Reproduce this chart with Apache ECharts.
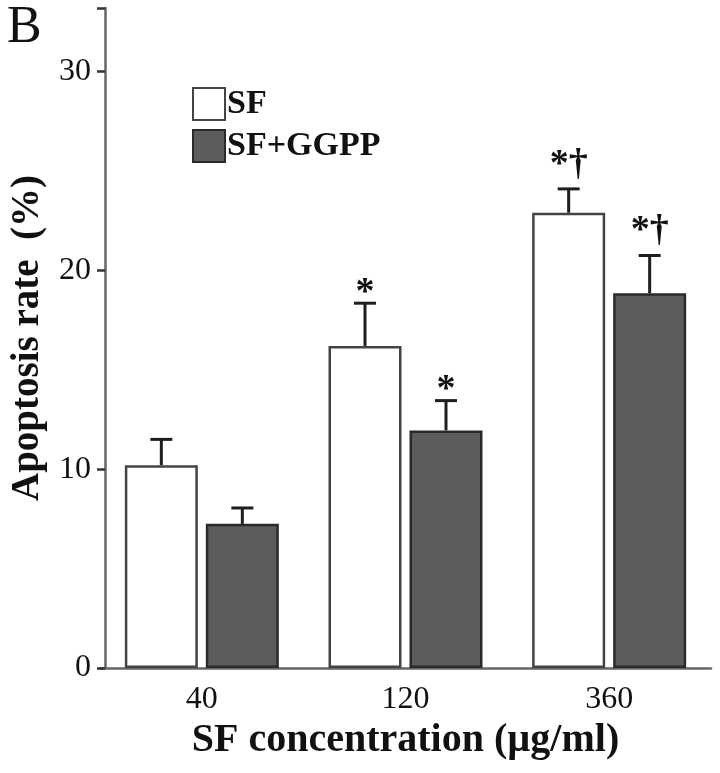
<!DOCTYPE html>
<html>
<head>
<meta charset="utf-8">
<script src="https://cdn.jsdelivr.net/npm/echarts@6/dist/echarts.min.js"></script>
<style>
html,body{margin:0;padding:0;background:#fff;}
#chart{width:720px;height:773px;}
</style>
</head>
<body>
<div id="chart"></div>
<script>
// ---- data ----
var categories = ['40', '120', '360'];
var seriesNames = ['SF', 'SF+GGPP'];
var sfValues = [10.2, 16.2, 22.9];
var sfErrors = [1.3, 2.15, 1.2];
var ggppValues = [7.25, 11.95, 18.85];
var ggppErrors = [0.8, 1.5, 1.9];
var sfMarks = ['', '*', '*†'];
var ggppMarks = ['', '*', '*†'];
var yTicks = [0, 10, 20, 30];
var yMax = 33.2;

// ---- style ----
var FONT = '"Liberation Serif", "DejaVu Serif", serif';
var BAR_W = 73;
var GAP_PX = 8;
var HALF = (BAR_W + GAP_PX) / 2;

function errorSeries(values, errors, marks, sign) {
  var data = values.map(function (v, i) { return [i, v, v + errors[i], marks[i]]; });
  return {
    type: 'custom',
    z: 5,
    data: data,
    renderItem: function (params, api) {
      var idx = api.value(0);
      var base = api.coord([idx, api.value(1)]);
      var top = api.coord([idx, api.value(2)]);
      var x = base[0] + sign * HALF;
      var cap = 11;
      var children = [
        { type: 'line', shape: { x1: x, y1: base[1], x2: x, y2: top[1] }, style: { stroke: '#1e1e1e', lineWidth: 3 } },
        { type: 'line', shape: { x1: x - cap, y1: top[1], x2: x + cap, y2: top[1] }, style: { stroke: '#1e1e1e', lineWidth: 3 } }
      ];
      var mark = data[params.dataIndex][3];
      if (mark) {
        var lift = mark.indexOf('†') >= 0 ? 5 : -9;
        children.push({
          type: 'text',
          style: {
            text: mark, x: x, y: top[1] - lift,
            align: 'center', verticalAlign: 'bottom',
            font: 'bold 38px ' + FONT, fill: '#111'
          }
        });
      }
      return { type: 'group', children: children };
    }
  };
}

var chart = echarts.init(document.getElementById('chart'));
chart.setOption({
  backgroundColor: '#fff',
  animation: false,
  grid: { left: 100, right: 9, top: 8, bottom: 105 },
  graphic: [{
    type: 'text', left: 7, top: 2,
    style: { text: 'B', font: '52px ' + FONT, fill: '#111' }
  }],
  legend: {
    orient: 'vertical', left: 187, top: 82, itemWidth: 32, itemHeight: 32, itemGap: 8,
    icon: 'rect',
    textStyle: { fontFamily: FONT, fontWeight: 'bold', fontSize: 34, color: '#111', padding: [0, 0, 0, -3] },
    data: seriesNames
  },
  xAxis: {
    type: 'category', data: categories,
    axisLine: { lineStyle: { color: '#666', width: 2.5 } },
    axisTick: { alignWithLabel: true, length: 9, lineStyle: { color: '#333', width: 2.5 } },
    axisLabel: { fontFamily: FONT, fontSize: 32, color: '#111', margin: 16 },
    name: 'SF concentration (µg/ml)', nameLocation: 'middle', nameGap: 47,
    nameTextStyle: { fontFamily: FONT, fontWeight: 'bold', fontSize: 40, color: '#111' }
  },
  yAxis: {
    type: 'value', min: 0, max: yMax, interval: 10, offset: -5,
    splitLine: { show: false },
    axisLine: { show: true, lineStyle: { color: '#666', width: 2.5 } },
    axisTick: { show: true, length: 8, lineStyle: { color: '#333', width: 2.5 } },
    axisLabel: {
      fontFamily: FONT, fontSize: 32, color: '#111', margin: 14,
      formatter: function (v) { return yTicks.indexOf(v) >= 0 ? String(v) : ''; }
    },
    name: 'Apoptosis rate  (%)', nameLocation: 'middle', nameGap: 58,
    nameTextStyle: { fontFamily: FONT, fontWeight: 'bold', fontSize: 39, color: '#111' }
  },
  series: [
    {
      name: seriesNames[0], type: 'bar', data: sfValues, barWidth: BAR_W, barGap: (GAP_PX / BAR_W * 100) + '%',
      itemStyle: { color: '#ffffff', borderColor: '#444', borderWidth: 2.5 }
    },
    {
      name: seriesNames[1], type: 'bar', data: ggppValues, barWidth: BAR_W,
      itemStyle: { color: '#5c5c5c', borderColor: '#2a2a2a', borderWidth: 2.5 }
    },
    errorSeries(sfValues, sfErrors, sfMarks, -1),
    errorSeries(ggppValues, ggppErrors, ggppMarks, 1)
  ]
});
</script>
</body>
</html>
